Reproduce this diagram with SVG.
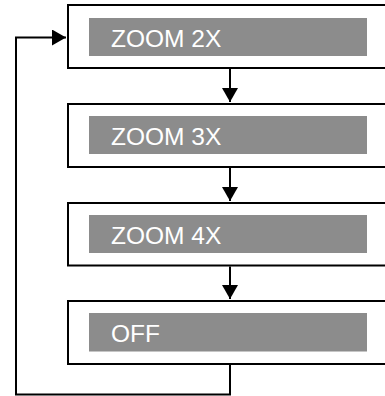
<svg xmlns="http://www.w3.org/2000/svg" width="385" height="396" viewBox="0 0 385 396">
<defs>
<style>
.box{fill:#fff;stroke:#000;stroke-width:2}
.bar{fill:#8c8c8c}
.lbl{fill:#fff;font-family:"Liberation Sans",Arial,sans-serif;font-size:24.5px}
.con{fill:none;stroke:#000;stroke-width:2}
</style>
<marker id="ah" markerWidth="14" markerHeight="16" viewBox="0 0 14 16" refX="14" refY="8" orient="auto" markerUnits="userSpaceOnUse">
<path d="M0,0 L14,8 L0,16 Z" fill="#000"/>
</marker>
</defs>
<g id="node-zoom2x">
<rect class="box" x="68" y="5" width="330" height="63"/>
<rect class="bar" x="89" y="18" width="278" height="38"/>
<text class="lbl" x="111" y="46.5">ZOOM 2X</text>
</g>
<g id="node-zoom3x">
<rect class="box" x="68" y="104" width="330" height="63"/>
<rect class="bar" x="89" y="116" width="278" height="38"/>
<text class="lbl" x="111" y="144.5">ZOOM 3X</text>
</g>
<g id="node-zoom4x">
<rect class="box" x="68" y="203" width="330" height="62.5"/>
<rect class="bar" x="89" y="215" width="278" height="38"/>
<text class="lbl" x="111" y="243.5">ZOOM 4X</text>
</g>
<g id="node-off">
<rect class="box" x="68" y="301" width="330" height="63"/>
<rect class="bar" x="89" y="313" width="278" height="38.5"/>
<text class="lbl" x="111" y="341.5">OFF</text>
</g>
<g id="connectors">
<line class="con" x1="230" y1="69" x2="230" y2="102" marker-end="url(#ah)"/>
<line class="con" x1="230" y1="168" x2="230" y2="201" marker-end="url(#ah)"/>
<line class="con" x1="230" y1="266.5" x2="230" y2="299" marker-end="url(#ah)"/>
<polyline class="con" points="230,365 230,394.5 16,394.5 16,37.5 66,37.5" marker-end="url(#ah)"/>
</g>
</svg>
